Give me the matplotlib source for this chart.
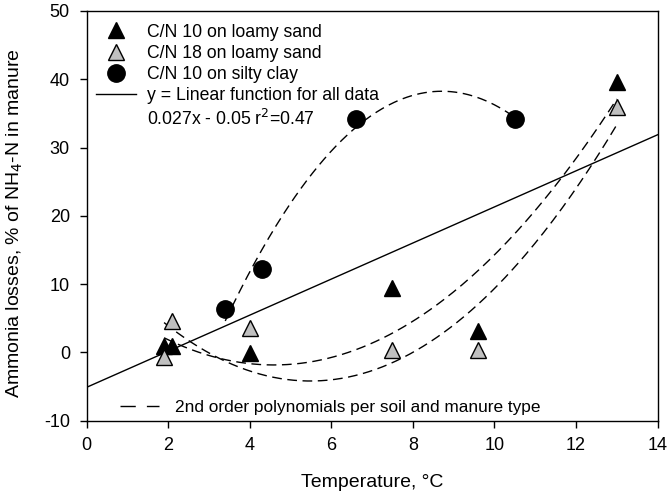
import numpy as np
import matplotlib

matplotlib.use("Agg")
import matplotlib.pyplot as plt
from matplotlib.lines import Line2D

plt.rcParams["font.family"] = ["Liberation Sans", "DejaVu Sans"]
plt.rcParams["axes.unicode_minus"] = False

# Temperature (deg C) and ammonia losses (% of NH4-N in manure)
cn10_sand_x = [1.9, 2.1, 4.0, 7.5, 9.6, 13.0]
cn10_sand_y = [1.0, 0.9, -0.1, 9.4, 3.2, 39.6]
cn18_sand_x = [1.9, 2.1, 4.0, 7.5, 9.6, 13.0]
cn18_sand_y = [-0.7, 4.6, 3.6, 0.3, 0.3, 35.9]
cn10_clay_x = [3.4, 4.3, 6.6, 10.5]
cn10_clay_y = [6.4, 12.2, 34.2, 34.2]

x_ticks = [0, 2, 4, 6, 8, 10, 12, 14]
y_ticks = [-10, 0, 10, 20, 30, 40, 50]

_GRAY = "#c0c0c0"
_DASH = (7, 4)

fig = plt.figure(figsize=(6.71, 4.95), dpi=100)
ax = fig.add_axes([0.129, 0.150, 0.851, 0.828])

# 2nd order polynomial per soil/manure type
for xs, ys in ((cn10_sand_x, cn10_sand_y), (cn18_sand_x, cn18_sand_y), (cn10_clay_x, cn10_clay_y)):
    coef = np.polyfit(xs, ys, 2)
    xx = np.linspace(min(xs), max(xs), 200)
    ax.plot(xx, np.polyval(coef, xx), color="black", lw=1.0, dashes=_DASH, zorder=2)

# linear fit over all data
all_x = np.array(cn10_sand_x + cn18_sand_x + cn10_clay_x)
all_y = np.array(cn10_sand_y + cn18_sand_y + cn10_clay_y)
lin = np.polyfit(all_x, all_y, 1)
xl = np.array([0, 14])
ax.plot(xl, np.polyval(lin, xl), color="black", lw=1.0, zorder=2)

tri = dict(marker="^", markersize=11, markeredgecolor="black", markeredgewidth=1.0, linestyle="none", zorder=3)
dot = dict(marker="o", markersize=12.5, color="black", linestyle="none", zorder=3)
ax.plot(cn10_sand_x, cn10_sand_y, markerfacecolor="black", **tri)
ax.plot(cn18_sand_x, cn18_sand_y, markerfacecolor=_GRAY, **tri)
ax.plot(cn10_clay_x, cn10_clay_y, **dot)

ax.set_xlim(0, 14)
ax.set_ylim(-10, 50)
ax.set_xticks(x_ticks)
ax.set_yticks(y_ticks)
ax.tick_params(direction="out", length=5, width=1, labelsize=13, top=False, right=False, pad=7)
for s in ax.spines.values():
    s.set_linewidth(1.0)
ax.set_xlabel("Temperature, °C", fontsize=14, labelpad=14)
ax.set_ylabel("Ammonia losses, % of NH$_4$-N in manure", fontsize=14)
ax.yaxis.set_label_coords(-0.107, 0.483)

handles = [
    Line2D([], [], markerfacecolor="black", **tri),
    Line2D([], [], markerfacecolor=_GRAY, **tri),
    Line2D([], [], **dot),
    Line2D([], [], color="black", lw=1.0),
    Line2D([], [], linestyle="none"),
]
labels = [
    "C/N 10 on loamy sand",
    "C/N 18 on loamy sand",
    "C/N 10 on silty clay",
    "y = Linear function for all data",
    "0.027x - 0.05 r$^2$=0.47",
]
leg1 = ax.legend(handles, labels, loc="upper left", bbox_to_anchor=(0.0165, 0.969), frameon=False,
                 fontsize=12.7, handlelength=2.25, handletextpad=0.62, labelspacing=0.24,
                 borderpad=0, borderaxespad=0)
ax.add_artist(leg1)

ax.legend([Line2D([], [], color="black", lw=1.0, dashes=(11, 8))],
          ["2nd order polynomials per soil and manure type"],
          loc="lower left", bbox_to_anchor=(0.058, 0.015), frameon=False, fontsize=12.4,
          handlelength=2.3, handletextpad=0.9, borderpad=0, borderaxespad=0)

fig.savefig("out.png", dpi=100, facecolor="white")
